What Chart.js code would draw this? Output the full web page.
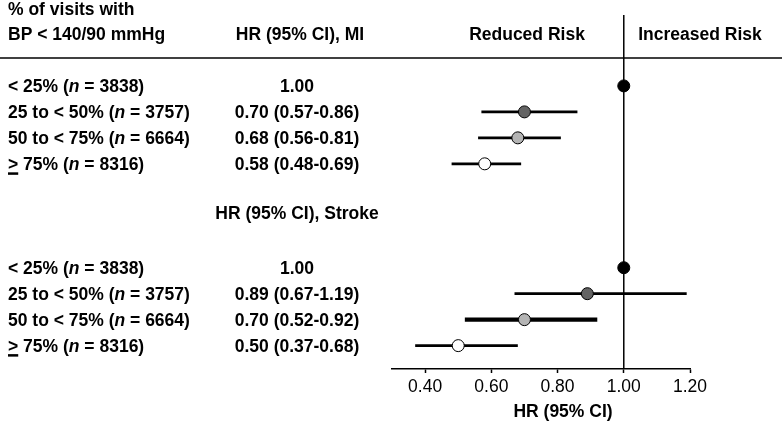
<!DOCTYPE html>
<html>
<head>
<meta charset="utf-8">
<script src="https://cdn.jsdelivr.net/npm/chart.js@4"></script>
<style>
  html, body { margin: 0; padding: 0; background: #fff; }
  canvas { display: block; }
</style>
</head>
<body>
<canvas id="forest" width="782" height="421"></canvas>
<script>
const groupLabels = ["< 25%", "25 to < 50%", "50 to < 75%", "> 75%"];
const groupN = ["3838", "3757", "6664", "8316"];
const markerColors = ["#000000", "#646464", "#b4b4b4", "#ffffff"];

const miHR = [1.00, 0.70, 0.68, 0.58];
const miLow = [null, 0.57, 0.56, 0.48];
const miHigh = [null, 0.86, 0.81, 0.69];

const strokeHR = [1.00, 0.89, 0.70, 0.50];
const strokeLow = [null, 0.67, 0.52, 0.37];
const strokeHigh = [null, 1.19, 0.92, 0.68];

const xTicks = [0.40, 0.60, 0.80, 1.00, 1.20];

// row slots on the y scale (0 at top)
const miRows = [0, 1, 2, 3];
const strokeRows = [7, 8, 9, 10];

const FONT = '"Liberation Sans", Arial, sans-serif';
const SIZE = 17.5;

function hrText(i, hr, low, high) {
  if (low == null) return hr.toFixed(2);
  return `${hr.toFixed(2)} (${low.toFixed(2)}-${high.toFixed(2)})`;
}

function ciDatasets(rows, low, high, widths) {
  return rows
    .map((row, i) => {
      if (low[i] == null) return null;
      return {
        type: "line",
        data: [{ x: low[i], y: row }, { x: high[i], y: row }],
        borderColor: "#000",
        borderWidth: widths[i],
        pointRadius: 0,
        order: 2
      };
    })
    .filter(Boolean);
}

const pointData = [
  ...miRows.map((row, i) => ({ x: miHR[i], y: row })),
  ...strokeRows.map((row, i) => ({ x: strokeHR[i], y: row }))
];

const textPlugin = {
  id: "forestText",
  beforeDatasetsDraw(chart) {
    const { ctx, chartArea, scales } = chart;
    const x1 = scales.x.getPixelForValue(1);
    ctx.save();
    ctx.strokeStyle = "#000";
    ctx.lineWidth = 1.5;
    ctx.beginPath();
    ctx.moveTo(x1, chartArea.top);
    ctx.lineTo(x1, chartArea.bottom);
    ctx.stroke();
    ctx.beginPath();
    ctx.moveTo(0, 58);
    ctx.lineTo(chart.width, 58);
    ctx.stroke();
    ctx.restore();
  },
  afterDraw(chart) {
    const { ctx, scales } = chart;
    const bold = `bold ${SIZE}px ${FONT}`;
    const boldItalic = `italic bold ${SIZE}px ${FONT}`;
    ctx.save();
    ctx.fillStyle = "#000";
    ctx.textBaseline = "alphabetic";

    ctx.font = bold;
    ctx.textAlign = "left";
    ctx.fillText("% of visits with", 8, 15);
    ctx.fillText("BP < 140/90 mmHg", 8, 40);
    ctx.textAlign = "center";
    ctx.fillText("HR (95% CI), MI", 300, 40);
    ctx.fillText("Reduced Risk", 527, 40);
    ctx.fillText("Increased Risk", 700, 40);
    ctx.fillText("HR (95% CI), Stroke", 297, 219);
    ctx.fillText("HR (95% CI)", 563, 417);

    const drawRows = (rows, hr, low, high) => {
      rows.forEach((row, i) => {
        const y = scales.y.getPixelForValue(row) + 6;
        let x = 8;
        ctx.textAlign = "left";
        ctx.font = bold;
        const head = `${groupLabels[i]} (`;
        ctx.fillText(head, x, y);
        if (groupLabels[i].startsWith(">")) {
          const w = ctx.measureText(">").width;
          ctx.fillRect(x, y + 2.5, w, 2.5);
        }
        x += ctx.measureText(head).width;
        ctx.font = boldItalic;
        ctx.fillText("n", x, y);
        x += ctx.measureText("n").width;
        ctx.font = bold;
        ctx.fillText(` = ${groupN[i]})`, x, y);
        ctx.textAlign = "center";
        ctx.fillText(hrText(i, hr[i], low[i], high[i]), 297, y);
      });
    };
    drawRows(miRows, miHR, miLow, miHigh);
    drawRows(strokeRows, strokeHR, strokeLow, strokeHigh);
    ctx.restore();
  }
};

new Chart(document.getElementById("forest"), {
  type: "scatter",
  data: {
    datasets: [
      {
        data: pointData,
        pointRadius: 6,
        pointHoverRadius: 6,
        pointBorderWidth: 1,
        pointBorderColor: "#000",
        pointBackgroundColor: [...markerColors, ...markerColors],
        order: 1
      },
      ...ciDatasets(miRows, miLow, miHigh, [0, 2.8, 2.8, 2.8]),
      ...ciDatasets(strokeRows, strokeLow, strokeHigh, [0, 2.8, 4.2, 2.8])
    ]
  },
  options: {
    responsive: false,
    animation: false,
    events: [],
    layout: { padding: { left: 392, right: 92, top: 15, bottom: 0 } },
    plugins: { legend: { display: false }, tooltip: { enabled: false } },
    scales: {
      x: {
        type: "linear",
        min: 0.3,
        max: 1.2,
        afterBuildTicks(scale) {
          scale.ticks = xTicks.map((value) => ({ value }));
        },
        afterFit(scale) {
          scale.height = 52;
        },
        ticks: {
          color: "#000",
          font: { family: FONT, size: SIZE },
          padding: 4,
          autoSkip: false,
          maxRotation: 0,
          callback: (value) => Number(value).toFixed(2)
        },
        grid: { drawOnChartArea: false, color: "#000", tickLength: 4, tickWidth: 1.5 },
        border: { color: "#000", width: 1.5 }
      },
      y: {
        type: "linear",
        display: false,
        reverse: true,
        min: -2.73,
        max: 10.9
      }
    }
  },
  plugins: [textPlugin]
});
</script>
</body>
</html>
